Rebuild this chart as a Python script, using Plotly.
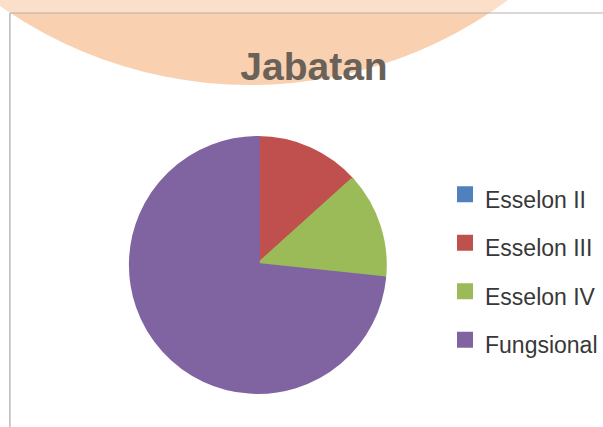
import plotly.graph_objects as go

W, H = 603, 427

labels = ["Esselon II", "Esselon III", "Esselon IV", "Fungsional"]
values = [0, 2, 2, 11]
colors = ["#4F81BD", "#C0504D", "#9BBB59", "#8064A2"]
title_text = "Jabatan"


def px(x):
    return x / W


def py(y):
    return 1 - y / H


legend_labels = ['<span style="font-size:23px">' + s + "</span>" for s in labels]

fig = go.Figure(
    go.Pie(
        labels=legend_labels,
        values=values,
        marker=dict(colors=colors, line=dict(width=4, color=colors)),
        sort=False,
        direction="clockwise",
        rotation=0,
        textinfo="none",
        hoverinfo="label+value+percent",
        domain=dict(x=[px(132), px(388)], y=[py(393), py(137)]),
    )
)

# decorative peach circle behind the chart
cx, cy, R = 252, -356, 441
shapes = [
    dict(type="circle", xref="paper", yref="paper",
         x0=px(cx - R), x1=px(cx + R), y0=py(cy + R), y1=py(cy - R),
         fillcolor="#F9D1B1", line=dict(width=0), layer="below"),
    dict(type="rect", xref="paper", yref="paper",
         x0=0, x1=1, y0=py(13), y1=1.02,
         fillcolor="rgba(255,255,255,0.3)", line=dict(width=0), layer="below"),
    dict(type="line", xref="paper", yref="paper",
         x0=px(10), x1=1.01, y0=py(13), y1=py(13),
         line=dict(color="#B8B0AA", width=1.2), layer="below"),
    dict(type="line", xref="paper", yref="paper",
         x0=px(10), x1=px(10), y0=py(13), y1=-0.01,
         line=dict(color="#A8A8A8", width=1.2), layer="below"),
]

fig.update_layout(
    width=W,
    height=H,
    margin=dict(l=0, r=0, t=0, b=0),
    paper_bgcolor="white",
    plot_bgcolor="white",
    shapes=shapes,
    title=dict(
        text="<b>" + title_text + "</b>",
        x=px(314), xanchor="center",
        y=py(72), yanchor="bottom",
        font=dict(family="Liberation Sans, Arial, sans-serif", size=39, color="#6A6159"),
        pad=dict(b=-8),
    ),
    legend=dict(
        x=px(449), xanchor="left",
        y=py(267), yanchor="middle",
        font=dict(family="Liberation Sans, Arial, sans-serif", size=35, color="#383838"),
        tracegroupgap=0,
        itemwidth=30,
        bgcolor="rgba(0,0,0,0)",
    ),
    showlegend=True,
)

fig.write_html(
    "out.html",
    config={"displayModeBar": False},
    post_script="document.body.style.margin='0';document.body.style.padding='0';",
)
